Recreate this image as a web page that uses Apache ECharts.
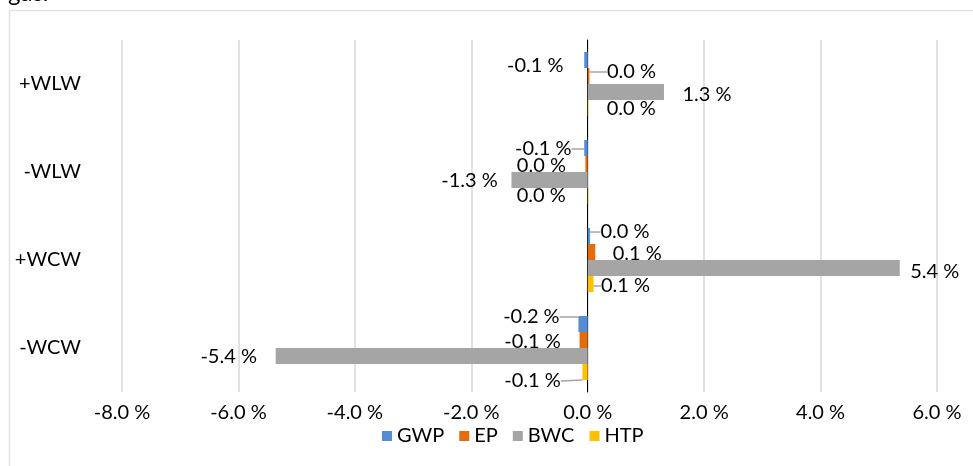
<!DOCTYPE html>
<html>
<head>
<meta charset="utf-8">
<script src="https://cdn.jsdelivr.net/npm/echarts@6/dist/echarts.min.js"></script>
<style>
  html, body { margin: 0; padding: 0; background: #fff; }
  #chart { width: 973px; height: 466px; }
</style>
</head>
<body>
<div id="chart"></div>
<script>
// Scenario categories, top to bottom
const categories = ['+WLW', '-WLW', '+WCW', '-WCW'];
// Relative change (%) per impact indicator
const seriesNames = ['GWP', 'EP', 'BWC', 'HTP'];
const gwp = [-0.06, -0.06, 0.04, -0.16];
const ep  = [0.03, -0.04, 0.13, -0.14];
const bwc = [1.31, -1.31, 5.36, -5.36];
const htp = [0.01, 0.01, 0.10, -0.09];
// Value axis ticks (%)
const axisMin = -8, axisMax = 6, axisStep = 2;

const values = [gwp, ep, bwc, htp];
const colors = ['#548DD4', '#E46C0A', '#A5A5A5', '#FFC000'];

// Label placement: offset of each label centre from the bar's end (px),
// and whether a leader line joins it to its bar.
const labelShift = [
  [[-49, 6], [-41, 1], [35, -4], [-47, -7]],
  [[42, -4], [-44, 2], [42, 2], [-47, 2]],
  [[43, 3], [-42, 1], [35, 4], [-47, 1]],
  [[43, 1], [-47, 0], [32, 2], [-50, 9]]
];
const leader = [
  [false, true, true, true],
  [true, false, false, false],
  [false, false, false, false],
  [false, false, true, true]
];

const FONT = 'Lato, "Open Sans", sans-serif';
const TXT = '#000000';
const FS = 20;

function pct(v) {
  const r = Math.abs(v) < 0.05 ? 0 : v;
  return r.toFixed(1) + ' %';
}

const series = seriesNames.map((name, s) => ({
  name,
  type: 'bar',
  yAxisIndex: 0,
  barGap: '0%',
  barCategoryGap: '27.3%',
  itemStyle: { color: colors[s] },
  label: {
    show: true,
    position: 'right',
    fontFamily: FONT,
    fontSize: FS,
    color: TXT,
    formatter: p => pct(p.value)
  },
  labelLine: { show: false, lineStyle: { color: '#a6a6a6', width: 1.5 } },
  labelLayout: p => {
    const v = values[s][p.dataIndex];
    const r = p.rect;
    const endX = v >= 0 ? r.x + r.width : r.x;
    const cy = r.y + r.height / 2;
    const sh = labelShift[s][p.dataIndex];
    const lr = p.labelRect;
    return {
      dx: endX + sh[0] - (lr.x + lr.width / 2),
      dy: cy + sh[1] - (lr.y + lr.height / 2)
    };
  },
  data: values[s].map((v, i) => ({
    value: v,
    labelLine: { show: leader[s][i] }
  }))
}));

const chart = echarts.init(document.getElementById('chart'), null, { renderer: 'canvas' });
chart.setOption({
  backgroundColor: '#ffffff',
  animation: false,
  textStyle: { fontFamily: FONT },
  graphic: [
    {
      type: 'rect',
      z: -10,
      shape: { x: 9.5, y: 10.5, width: 1000, height: 500 },
      style: { fill: '#ffffff', stroke: '#e3e3e3', lineWidth: 1.5 }
    },
    {
      type: 'text',
      z: -5,
      x: 8,
      y: 5,
      style: {
        text: 'gas.',
        font: '24px ' + FONT,
        fill: '#000',
        verticalAlign: 'bottom'
      }
    }
  ],
  legend: {
    data: seriesNames,
    left: 377,
    top: 421,
    icon: 'rect',
    itemWidth: 10,
    itemHeight: 10,
    itemGap: 15,
    textStyle: { fontFamily: FONT, fontSize: FS, color: TXT }
  },
  grid: { left: 122, right: 36, top: 40, bottom: 74, containLabel: false },
  xAxis: {
    type: 'value',
    min: axisMin,
    max: axisMax,
    interval: axisStep,
    axisLine: { show: false },
    axisTick: { show: false },
    splitLine: { show: true, lineStyle: { color: '#d9d9d9', width: 1.5 } },
    axisLabel: {
      margin: 11,
      fontFamily: FONT,
      fontSize: FS,
      color: TXT,
      formatter: v => v.toFixed(1) + ' %'
    }
  },
  yAxis: [
    {
      type: 'category',
      data: categories,
      inverse: true,
      position: 'left',
      axisLine: { show: true, onZero: true, lineStyle: { color: '#000', width: 1 } },
      axisTick: { show: false },
      axisLabel: { show: false },
      splitLine: { show: false }
    },
    {
      type: 'category',
      data: categories,
      inverse: true,
      position: 'left',
      axisLine: { show: false, onZero: false },
      axisTick: { show: false },
      splitLine: { show: false },
      axisLabel: { margin: 41, fontFamily: FONT, fontSize: FS, color: TXT }
    }
  ],
  series
});
</script>
</body>
</html>
